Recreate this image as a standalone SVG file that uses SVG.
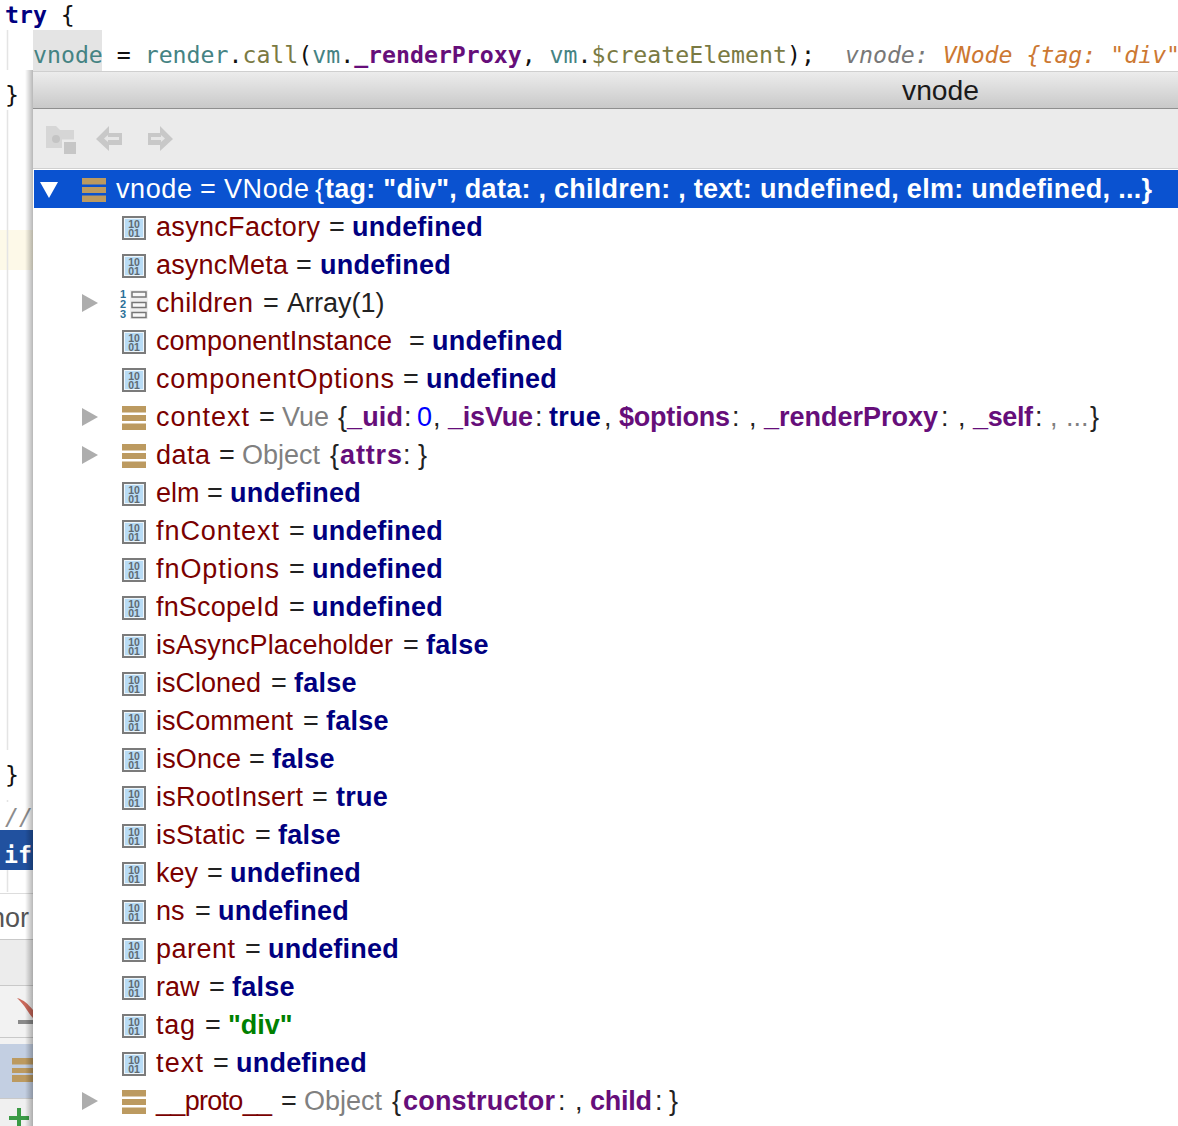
<svg xmlns="http://www.w3.org/2000/svg" width="1178" height="1126" viewBox="0 0 1178 1126">
<defs>
<linearGradient id="tb" x1="0" y1="0" x2="0" y2="1"><stop offset="0" stop-color="#ececec"/><stop offset="1" stop-color="#c9c9c9"/></linearGradient>
<linearGradient id="sh" x1="0" y1="0" x2="1" y2="0"><stop offset="0" stop-color="#000" stop-opacity="0"/><stop offset="1" stop-color="#000" stop-opacity=".28"/></linearGradient>
<symbol id="prim" width="24" height="24" viewBox="0 0 24 24" overflow="visible"><rect x="1" y="1" width="22" height="22" fill="#b9dcf5" stroke="#7b7b7b" stroke-width="2"/><rect x="2.500" y="2.500" width="19" height="19" fill="#b9dcf5" stroke="#eef6fb" stroke-width="1"/><text x="12" y="11.500" text-anchor="middle" style="font:bold 10.500px 'Liberation Sans',sans-serif;fill:#5f6a72">10</text><text x="12" y="20.500" text-anchor="middle" style="font:bold 10.500px 'Liberation Sans',sans-serif;fill:#5f6a72">01</text></symbol>
<symbol id="obj" width="24" height="24" viewBox="0 0 24 24"><path d="M0 0h24v6.500H0zM0 9h24v6H0zM0 17.500h24v6.500H0z" fill="#bc9a60"/></symbol>
<symbol id="tri" width="16" height="18" viewBox="0 0 16 18"><path d="M0 0L16 9L0 18z" fill="#adadad"/></symbol>
</defs>
<style>
.c{font:23.2px 'DejaVu Sans Mono',monospace;white-space:pre}
.t{font:27px 'Liberation Sans',sans-serif}
.n{fill:#7a0000}.e{fill:#222}.k{fill:#000080;font-weight:bold;letter-spacing:.22px}.g{fill:#808080}.p{fill:#660e7a;font-weight:bold}.d{fill:#222}
.w{fill:#fff}.wb{fill:#fff;font-weight:bold}
</style>
<rect width="1178" height="1126" fill="#fff"/>
<g id="editor">
<rect x="33" y="30" width="69" height="41" fill="#e4e4e4"/>
<rect x="0" y="230" width="33" height="40" fill="#fdf9e8"/>
<path d="M7.500 30V70M7.500 110V750M7.500 800V802M7.500 870V892" stroke="#e4e4e4" stroke-width="1.500" fill="none"/>
<text class="c" x="5" y="23"><tspan font-weight="bold" fill="#000080">try</tspan><tspan fill="#111"> {</tspan></text>
<text class="c" y="63" x="33"><tspan fill="#458383">vnode</tspan><tspan fill="#111"> = </tspan><tspan fill="#458383">render</tspan><tspan fill="#111">.</tspan><tspan fill="#7a7a43">call</tspan><tspan fill="#111">(</tspan><tspan fill="#458383">vm</tspan><tspan fill="#111">.</tspan><tspan fill="#660e7a" font-weight="bold">_renderProxy</tspan><tspan fill="#111">, </tspan><tspan fill="#458383">vm</tspan><tspan fill="#111">.</tspan><tspan fill="#7a7a43">$createElement</tspan><tspan fill="#111">);</tspan></text>
<text class="c" x="845" y="63" style="font-style:italic"><tspan fill="#787878">vnode: </tspan><tspan fill="#cc7832">VNode {tag: "div"</tspan></text>
<text class="c" x="5" y="103" fill="#111">}</text>
<text class="c" x="5" y="783" fill="#111">}</text>
<text class="c" x="5" y="825" fill="#8c8c8c" style="font-style:italic">//</text>
<rect x="0" y="830" width="33" height="40" fill="#21519f"/>
<text class="c" x="4" y="863" fill="#fff" style="font-weight:bold">if</text>
<rect x="0" y="893" width="33" height="48" fill="#fff"/>
<path d="M0 893.500H33" stroke="#ddd"/>
<text x="-10" y="927" style="font:27px 'Liberation Sans',sans-serif" fill="#555">nor</text>
<rect x="0" y="940" width="33" height="46" fill="#ececec"/>
<path d="M0 939.500H33M0 985.500H33" stroke="#c9c9c9"/>
<rect x="0" y="986" width="33" height="58" fill="#f2f2f2"/>
<path d="M17 998C24 1000 28 1004 33 1010V1018C28 1013 25 1005 17 998z" fill="#c9685a"/>
<rect x="18" y="1020" width="15" height="4" fill="#8a8a8a"/>
<path d="M0 1037.500H33" stroke="#c9c9c9"/>
<rect x="0" y="1044" width="33" height="55" fill="#c3cfe2"/>
<path d="M12 1058h21v6.500H12zM12 1068h21v5H12zM12 1075h21v7H12z" fill="#bc9a60"/>
<rect x="0" y="1099" width="33" height="27" fill="#f0f0f0"/>
<path d="M0 1098.500H33" stroke="#c9c9c9"/>
<path d="M9 1118H29M19 1108V1126" stroke="#3a9a45" stroke-width="4" fill="none"/>
<rect x="25" y="70" width="8" height="1056" fill="url(#sh)"/>
</g>
<g id="popup">
<rect x="33" y="71" width="1145" height="1055" fill="#fff"/>
<rect x="33" y="72" width="1145" height="36" fill="url(#tb)"/>
<path d="M33 71.500H1178" stroke="#cfcfcf"/>
<path d="M33 108.500H1178" stroke="#8f8f8f"/>
<rect x="33" y="109" width="1145" height="60" fill="#ebebeb"/>
<path d="M33 168.500H1178" stroke="#d0d0d0"/>
<text x="940.500" y="100" text-anchor="middle" style="font:27px 'Liberation Sans',sans-serif" fill="#1a1a1a" textLength="77" lengthAdjust="spacingAndGlyphs">vnode</text>
<g id="toolbar">
<path d="M46 126h10l4 4h14v18H46z" fill="#d6d6d6"/><circle cx="56" cy="139" r="4" fill="#c4c4c4"/><rect x="62" y="139.500" width="15" height="15" fill="#ebebeb"/><rect x="64" y="142" width="12" height="12" fill="#c6c6c6"/>
<path d="M96 139L109 126V133H122V145H109V151z" fill="#c8c8c8"/><path d="M104 138.500L108 135V137H119V140H108V142z" fill="#e6e6e6"/>
<path d="M173 139L160 126V133H148V145H160V151z" fill="#c8c8c8"/><path d="M165 138.500L161 135V137H151V140H161V142z" fill="#e6e6e6"/>
</g>
<rect x="34" y="170" width="1144" height="38" fill="#0a52d0"/>
<path d="M40 182H58L49 198z" fill="#fff"/>
<use href="#obj" x="82" y="178"/>
<text class="t" y="198"><tspan class="w" x="116" textLength="76">vnode</tspan><tspan class="w" x="200">=</tspan><tspan class="w" x="224" textLength="85">VNode</tspan><tspan class="w" x="315">{</tspan><tspan class="wb" x="325" textLength="827">tag: "div", data: , children: , text: undefined, elm: undefined, ...}</tspan></text>
</g>
<g id="rows">
<use href="#prim" x="122" y="216"/><use href="#prim" x="122" y="254"/><use href="#prim" x="122" y="330"/><use href="#prim" x="122" y="368"/>
<use href="#prim" x="122" y="482"/><use href="#prim" x="122" y="520"/><use href="#prim" x="122" y="558"/><use href="#prim" x="122" y="596"/><use href="#prim" x="122" y="634"/><use href="#prim" x="122" y="672"/><use href="#prim" x="122" y="710"/><use href="#prim" x="122" y="748"/><use href="#prim" x="122" y="786"/><use href="#prim" x="122" y="824"/><use href="#prim" x="122" y="862"/><use href="#prim" x="122" y="900"/><use href="#prim" x="122" y="938"/><use href="#prim" x="122" y="976"/><use href="#prim" x="122" y="1014"/><use href="#prim" x="122" y="1052"/>
<use href="#tri" x="82" y="294"/><use href="#tri" x="82" y="408"/><use href="#tri" x="82" y="446"/><use href="#tri" x="82" y="1092"/>
<use href="#obj" x="122" y="406"/><use href="#obj" x="122" y="444"/><use href="#obj" x="122" y="1090"/>
<g id="arrayicon"><rect x="130" y="290" width="18" height="29" fill="#efefef"/><path d="M132 292h14v5h-14zM132 302.500h14v5h-14zM132 312.500h14v5h-14z" fill="#f8f8f8" stroke="#777" stroke-width="1.500"/><text x="120" y="298" style="font:bold 11px 'Liberation Sans',sans-serif" fill="#2a6f97">1</text><text x="120" y="308" style="font:bold 11px 'Liberation Sans',sans-serif" fill="#2a6f97">2</text><text x="120" y="318" style="font:bold 11px 'Liberation Sans',sans-serif" fill="#2a6f97">3</text></g>
<text class="t" y="236"><tspan class="n" x="156" textLength="164">asyncFactory</tspan><tspan class="e" x="329">=</tspan><tspan class="k" x="352">undefined</tspan></text>
<text class="t" y="274"><tspan class="n" x="156" textLength="132">asyncMeta</tspan><tspan class="e" x="296">=</tspan><tspan class="k" x="320">undefined</tspan></text>
<text class="t" y="312"><tspan class="n" x="156" textLength="97">children</tspan><tspan class="e" x="263">=</tspan><tspan class="d" x="287">Array(1)</tspan></text>
<text class="t" y="350"><tspan class="n" x="156" textLength="236">componentInstance</tspan><tspan class="e" x="409">=</tspan><tspan class="k" x="432">undefined</tspan></text>
<text class="t" y="388"><tspan class="n" x="156" textLength="238">componentOptions</tspan><tspan class="e" x="403">=</tspan><tspan class="k" x="426">undefined</tspan></text>
<text class="t" y="426"><tspan class="n" x="156" textLength="93">context</tspan><tspan class="e" x="259">=</tspan><tspan class="g" x="282">Vue</tspan><tspan class="d" x="338">{</tspan><tspan class="p" x="347" textLength="56">_uid</tspan><tspan class="d" x="404">:</tspan><tspan fill="#0000ff" x="417">0</tspan><tspan class="d" x="433">,</tspan><tspan class="p" x="448" textLength="85">_isVue</tspan><tspan class="d" x="535">:</tspan><tspan class="k" x="549">true</tspan><tspan class="d" x="604">,</tspan><tspan class="p" x="619" textLength="111">$options</tspan><tspan class="d" x="732">:</tspan><tspan class="d" x="749">,</tspan><tspan class="p" x="764" textLength="174">_renderProxy</tspan><tspan class="d" x="941">:</tspan><tspan class="d" x="958">,</tspan><tspan class="p" x="973" textLength="60">_self</tspan><tspan class="d" x="1035">:</tspan><tspan class="g" x="1050">,</tspan><tspan class="g" x="1066">...</tspan><tspan class="d" x="1090">}</tspan></text>
<text class="t" y="464"><tspan class="n" x="156" textLength="54">data</tspan><tspan class="e" x="219">=</tspan><tspan class="g" x="242">Object</tspan><tspan class="d" x="330">{</tspan><tspan class="p" x="340" textLength="62">attrs</tspan><tspan class="d" x="403">:</tspan><tspan class="d" x="418">}</tspan></text>
<text class="t" y="502"><tspan class="n" x="156">elm</tspan><tspan class="e" x="207">=</tspan><tspan class="k" x="230">undefined</tspan></text>
<text class="t" y="540"><tspan class="n" x="156" textLength="123">fnContext</tspan><tspan class="e" x="289">=</tspan><tspan class="k" x="312">undefined</tspan></text>
<text class="t" y="578"><tspan class="n" x="156" textLength="123">fnOptions</tspan><tspan class="e" x="289">=</tspan><tspan class="k" x="312">undefined</tspan></text>
<text class="t" y="616"><tspan class="n" x="156" textLength="123">fnScopeId</tspan><tspan class="e" x="289">=</tspan><tspan class="k" x="312">undefined</tspan></text>
<text class="t" y="654"><tspan class="n" x="156" textLength="237">isAsyncPlaceholder</tspan><tspan class="e" x="403">=</tspan><tspan class="k" x="426">false</tspan></text>
<text class="t" y="692"><tspan class="n" x="156" textLength="105">isCloned</tspan><tspan class="e" x="271">=</tspan><tspan class="k" x="294">false</tspan></text>
<text class="t" y="730"><tspan class="n" x="156" textLength="137">isComment</tspan><tspan class="e" x="303">=</tspan><tspan class="k" x="326">false</tspan></text>
<text class="t" y="768"><tspan class="n" x="156" textLength="85">isOnce</tspan><tspan class="e" x="249">=</tspan><tspan class="k" x="272">false</tspan></text>
<text class="t" y="806"><tspan class="n" x="156" textLength="147">isRootInsert</tspan><tspan class="e" x="312">=</tspan><tspan class="k" x="336">true</tspan></text>
<text class="t" y="844"><tspan class="n" x="156" textLength="89">isStatic</tspan><tspan class="e" x="255">=</tspan><tspan class="k" x="278">false</tspan></text>
<text class="t" y="882"><tspan class="n" x="156" textLength="42">key</tspan><tspan class="e" x="207">=</tspan><tspan class="k" x="230">undefined</tspan></text>
<text class="t" y="920"><tspan class="n" x="156">ns</tspan><tspan class="e" x="195">=</tspan><tspan class="k" x="218">undefined</tspan></text>
<text class="t" y="958"><tspan class="n" x="156" textLength="79">parent</tspan><tspan class="e" x="245">=</tspan><tspan class="k" x="268">undefined</tspan></text>
<text class="t" y="996"><tspan class="n" x="156">raw</tspan><tspan class="e" x="209">=</tspan><tspan class="k" x="232">false</tspan></text>
<text class="t" y="1034"><tspan class="n" x="156" textLength="39">tag</tspan><tspan class="e" x="205">=</tspan><tspan fill="#008000" font-weight="bold" x="228">"div"</tspan></text>
<text class="t" y="1072"><tspan class="n" x="156" textLength="47">text</tspan><tspan class="e" x="213">=</tspan><tspan class="k" x="236">undefined</tspan></text>
<text class="t" y="1110"><tspan class="n" x="156" textLength="116">__proto__</tspan><tspan class="e" x="281">=</tspan><tspan class="g" x="304">Object</tspan><tspan class="d" x="392">{</tspan><tspan class="p" x="403" textLength="152">constructor</tspan><tspan class="d" x="558">:</tspan><tspan class="d" x="575">,</tspan><tspan class="p" x="590" textLength="62">child</tspan><tspan class="d" x="655">:</tspan><tspan class="d" x="669">}</tspan></text>
</g>
</svg>
